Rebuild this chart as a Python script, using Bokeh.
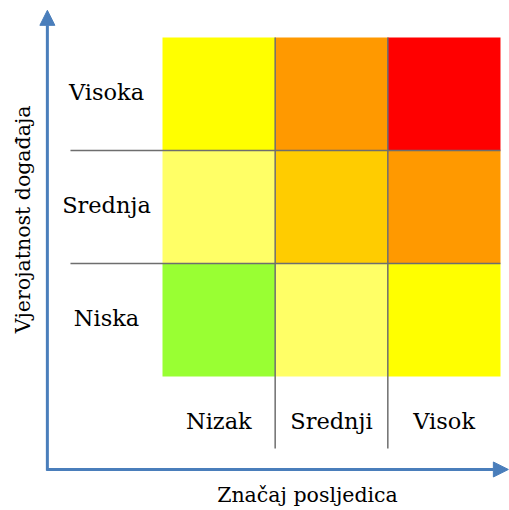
import numpy as np
from bokeh.plotting import figure
from bokeh.models import Range1d, Arrow, NormalHead, ColumnDataSource
from bokeh.core.properties import value
from bokeh.embed import file_html
from bokeh.resources import INLINE

# ---- data ----
impact_labels = ["Nizak", "Srednji", "Visok"]          # x categories (Značaj posljedica)
likelihood_labels = ["Niska", "Srednja", "Visoka"]     # y categories (Vjerojatnost događaja)
# cell colours, one row per likelihood level (bottom to top), one entry per impact level
risk_colors = [
    ["#99FF33", "#FFFF66", "#FFFF00"],   # Niska
    ["#FFFF66", "#FFCC00", "#FF9900"],   # Srednja
    ["#FFFF00", "#FF9900", "#FF0000"],   # Visoka
]
x_title = "Značaj posljedica"
y_title = "Vjerojatnost događaja"

# ---- layout ----
W, H = 509, 510
FONT = "DejaVu Serif"
FS = "22.5px"
FS_TITLE = "20.5px"
AXIS_BLUE = "#4A7EBB"
GRID_GRAY = "#6E6E6E"

p = figure(width=W, height=H, output_backend="svg", toolbar_location=None,
           x_range=Range1d(-1.438, 3.080), y_range=Range1d(-1.186, 3.327),
           x_axis_location=None, y_axis_location=None, min_border=0)
p.xgrid.visible = False
p.ygrid.visible = False
p.outline_line_color = None
p.background_fill_color = "white"

xs, ys, cs = [], [], []
for ri, row in enumerate(risk_colors):
    for ci, c in enumerate(row):
        xs.append(ci + 0.5)
        ys.append(ri + 0.5)
        cs.append(c)
src = ColumnDataSource(dict(x=xs, y=ys, c=cs))
p.rect(x="x", y="y", width=1, height=1, fill_color="c", line_color=None, source=src)

n = len(impact_labels)
m = len(likelihood_labels)
# separator lines
for k in range(1, m):
    p.line([-0.817, n], [k, k], line_color=GRID_GRAY, line_width=1.5)
for k in range(1, n):
    p.line([k, k], [m, -0.637], line_color=GRID_GRAY, line_width=1.5)

# category labels
p.text(x=[-0.497] * m, y=[i + 0.52 for i in range(m)], text=likelihood_labels,
       text_font=value(FONT), text_font_size=FS, text_color="black",
       text_align="center", text_baseline="middle")
p.text(x=[i + 0.5 for i in range(n)], y=[-0.39] * n, text=impact_labels,
       text_font=value(FONT), text_font_size=FS, text_color="black",
       text_align="center", text_baseline="middle")

# axis arrows
ax0x, ax0y = -1.022, -0.823
p.add_layout(Arrow(end=NormalHead(size=15, fill_color=AXIS_BLUE, line_color=AXIS_BLUE),
                   x_start=ax0x, y_start=ax0y - 0.01, x_end=ax0x, y_end=3.24,
                   line_color=AXIS_BLUE, line_width=3))
p.add_layout(Arrow(end=NormalHead(size=15, fill_color=AXIS_BLUE, line_color=AXIS_BLUE),
                   x_start=ax0x - 0.01, y_start=ax0y, x_end=3.07, y_end=ax0y,
                   line_color=AXIS_BLUE, line_width=3))

# axis titles
p.text(x=[1.287], y=[-1.053], text=[x_title], text_font=value(FONT),
       text_font_size=FS_TITLE, text_color="black", text_align="center", text_baseline="middle")
p.text(x=[-1.234], y=[1.39], text=[y_title], text_font=value(FONT), angle=np.pi / 2,
       text_font_size=FS_TITLE, text_color="black", text_align="center", text_baseline="middle")

open("out.html", "w").write(file_html(p, INLINE))
